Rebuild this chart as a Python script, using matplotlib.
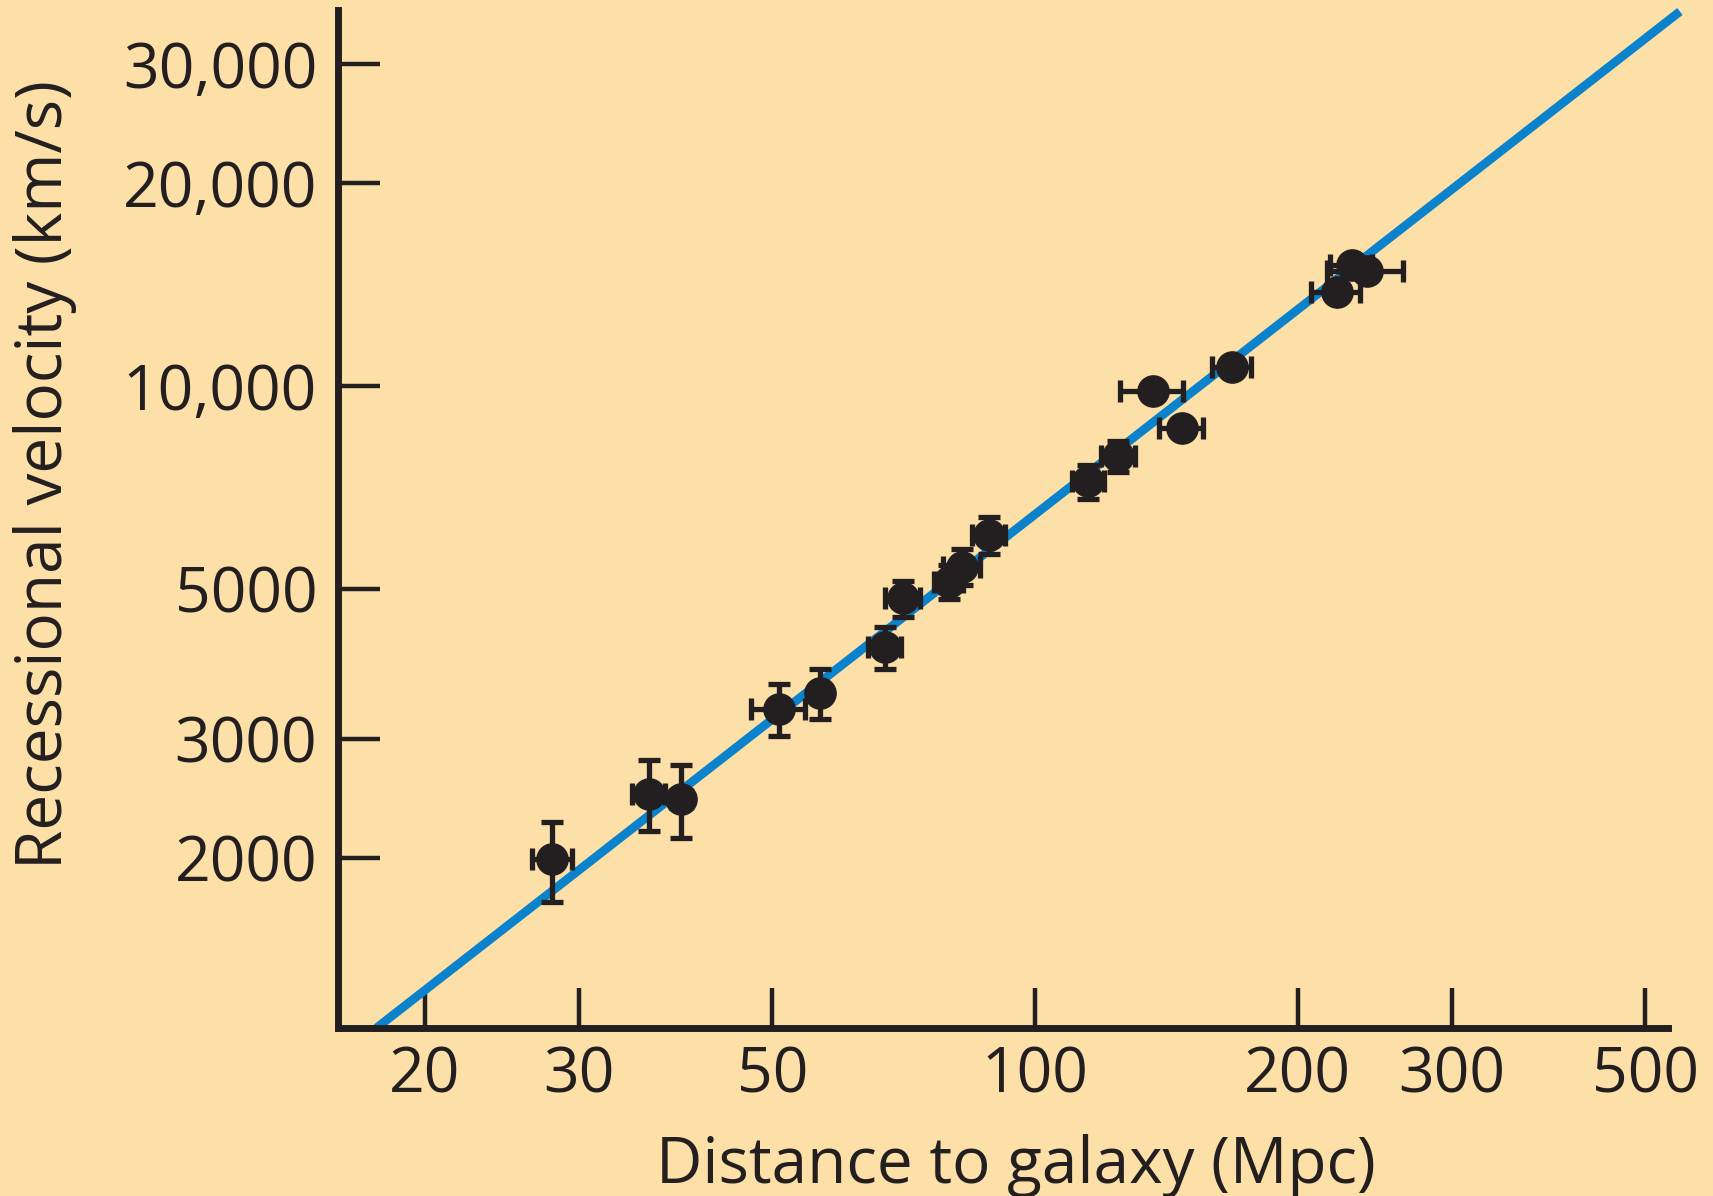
import matplotlib
matplotlib.use("Agg")
import matplotlib.pyplot as plt
from matplotlib.ticker import FixedLocator, FixedFormatter, NullLocator

# galaxies: distance (Mpc) and recessional velocity (km/s)
distance = [28.0, 36.1, 39.3, 50.9, 56.7, 67.3, 70.6, 79.6, 82.4, 88.6,
            115.1, 124.5, 136.4, 147.2, 168.3, 221.6, 230.6, 240.3]
velocity = [1990, 2490, 2440, 3320, 3510, 4100, 4850, 5130, 5400, 6020,
            7220, 7880, 9830, 8660, 10680, 13790, 15110, 14820]
distance_err = [1.5, 1.6, 1.0, 3.6, 0.0, 3.0, 3.2, 3.0, 4.0, 3.9,
                5.0, 5.6, 11.3, 8.7, 8.6, 14.3, 12.8, 24.0]
velocity_err = [270, 300, 300, 295, 300, 290, 300, 300, 330, 380,
                420, 420, 0, 0, 0, 0, 0, 0]

# straight-line fit (Hubble law) end points
fit_distance = [17.6, 548]
fit_velocity = [1119, 35880]

x_ticks = [20, 30, 50, 100, 200, 300, 500]
x_labels = ["20", "30", "50", "100", "200", "300", "500"]
y_ticks = [2000, 3000, 5000, 10000, 20000, 30000]
y_labels = ["2000", "3000", "5000", "10,000", "20,000", "30,000"]

BG = "#fddfa8"
INK = "#231f20"
BLUE = "#0a82cc"

plt.rcParams["font.family"] = ["Open Sans", "DejaVu Sans"]

fig = plt.figure(figsize=(17.13, 11.96), dpi=100, facecolor=BG)
ax = fig.add_axes([0.1973, 0.1405, 0.7764, 0.8511])
ax.set_facecolor(BG)

ax.set_xscale("log")
ax.set_yscale("log")
ax.set_xlim(15.9, 531)
ax.set_ylim(1119, 36060)

ax.plot(fit_distance, fit_velocity, color=BLUE, lw=6.3, solid_capstyle="butt",
        clip_on=False, zorder=2)

ax.errorbar(distance, velocity, xerr=distance_err, yerr=velocity_err,
            fmt="o", color=INK, ms=22.5, elinewidth=3.8, capsize=7.8, capthick=3.8,
            zorder=3)

ax.xaxis.set_major_locator(FixedLocator(x_ticks))
ax.xaxis.set_major_formatter(FixedFormatter(x_labels))
ax.yaxis.set_major_locator(FixedLocator(y_ticks))
ax.yaxis.set_major_formatter(FixedFormatter(y_labels))
ax.xaxis.set_minor_locator(NullLocator())
ax.yaxis.set_minor_locator(NullLocator())

for side in ["top", "right"]:
    ax.spines[side].set_visible(False)
for side in ["left", "bottom"]:
    ax.spines[side].set_linewidth(5)
    ax.spines[side].set_color(INK)
    ax.spines[side].set_capstyle("projecting")

ax.tick_params(axis="x", direction="in", length=29, width=3.2, color=INK,
               labelsize=45, labelcolor=INK, pad=12)
ax.tick_params(axis="y", direction="in", length=30, width=3.2, color=INK,
               labelsize=45, labelcolor=INK, pad=15)

ax.set_xlabel("Distance to galaxy (Mpc)", fontsize=46, color=INK)
ax.xaxis.label.set_va("baseline")
ax.xaxis.set_label_coords(0.51, -0.1523)

ax.set_ylabel("Recessional velocity (km/s)", fontsize=46, color=INK)
ax.yaxis.label.set_va("baseline")
ax.yaxis.set_label_coords(-0.2075, 0.5432)

fig.savefig("out.png", dpi=100, facecolor=BG)
